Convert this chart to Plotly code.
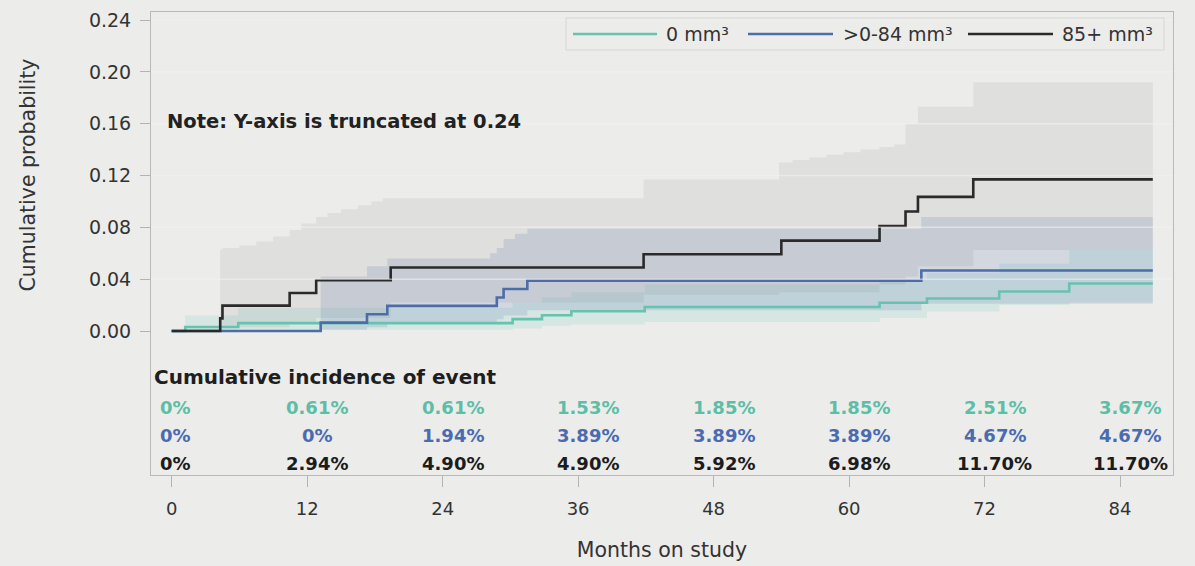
import plotly.graph_objects as go

# ---- cumulative incidence step curves (months, probability) ----
months_0 = [0, 1.2, 5.9, 30.2, 32.8, 35.4, 41.9, 62.7, 66.9, 73.3, 79.5, 86.9]
cif_0 = [0, 0.0031, 0.0061, 0.0092, 0.0122, 0.0153, 0.0185, 0.0218, 0.0251, 0.0305, 0.0367, 0.0367]

months_mid = [0, 13.2, 17.3, 19.1, 28.8, 29.4, 31.5, 66.4, 86.9]
cif_mid = [0, 0.0065, 0.0130, 0.0194, 0.0259, 0.0324, 0.0389, 0.0467, 0.0467]

months_85 = [0, 4.3, 4.5, 10.45, 12.8, 19.4, 41.8, 54.0, 62.7, 65.0, 66.1, 71.0, 86.9]
cif_85 = [0, 0.0098, 0.0196, 0.0294, 0.0392, 0.0490, 0.0592, 0.0698, 0.0810, 0.0922, 0.1035, 0.1170, 0.1170]

# ---- pointwise confidence bands ----
band_0_t = [1.2, 5.9, 30.2, 32.8, 35.4, 41.9, 62.7, 66.9, 73.3, 79.5, 86.9]
band_0_lo = [0.0003, 0.001, 0.002, 0.004, 0.005, 0.007, 0.010, 0.015, 0.020, 0.022, 0.022]
band_0_hi = [0.012, 0.018, 0.022, 0.026, 0.030, 0.036, 0.040, 0.045, 0.052, 0.0625, 0.0625]

band_mid_t = [13.2, 17.3, 19.1, 28.2, 28.8, 29.4, 30.4, 31.5, 66.4, 86.9]
band_mid_lo = [0.001, 0.003, 0.006, 0.006, 0.009, 0.012, 0.012, 0.016, 0.021, 0.021]
band_mid_hi = [0.042, 0.050, 0.056, 0.060, 0.064, 0.071, 0.075, 0.079, 0.088, 0.088]

band_85_t = [4.3, 4.5, 6.0, 7.5, 9.0, 10.45, 11.5, 12.8, 13.8, 15.0, 16.5, 17.7, 18.7, 19.4,
             41.8, 53.8, 55.0, 56.5, 58.0, 59.5, 61.0, 62.7, 64.0, 65.0, 66.1, 71.0, 86.9]
band_85_lo = [0.001, 0.003, 0.003, 0.003, 0.003, 0.006, 0.006, 0.010, 0.010, 0.010, 0.010, 0.010, 0.010, 0.022,
              0.028, 0.030, 0.030, 0.030, 0.030, 0.030, 0.030, 0.036, 0.036, 0.042, 0.050, 0.0625, 0.0625]
band_85_hi = [0.063, 0.064, 0.066, 0.069, 0.073, 0.078, 0.083, 0.088, 0.091, 0.094, 0.097, 0.100, 0.1024, 0.1024,
              0.117, 0.130, 0.132, 0.134, 0.136, 0.138, 0.140, 0.142, 0.144, 0.160, 0.173, 0.192, 0.192]

# ---- table of cumulative incidence at landmark months ----
table_months = [0, 12, 24, 36, 48, 60, 72, 84]
table_0 = ["0%", "0.61%", "0.61%", "1.53%", "1.85%", "1.85%", "2.51%", "3.67%"]
table_mid = ["0%", "0%", "1.94%", "3.89%", "3.89%", "3.89%", "4.67%", "4.67%"]
table_85 = ["0%", "2.94%", "4.90%", "4.90%", "5.92%", "6.98%", "11.70%", "11.70%"]

group_names = ["0 mm³", ">0-84 mm³", "85+ mm³"]
y_ticks = [0, 0.04, 0.08, 0.12, 0.16, 0.20, 0.24]

TEAL = "#67c3b0"
BLUE = "#4c6da8"
BLACK = "#2a2a2a"
TEAL_TXT = "#5bbea7"
BLUE_TXT = "#4a6bb0"
BLACK_TXT = "#1c1c1c"
BG = "#ececea"
FONT = "DejaVu Sans"

fig = go.Figure()


def add_band(t, lo, hi, fillcolor):
    fig.add_trace(go.Scatter(x=t, y=lo, mode="lines", line=dict(width=0, shape="hv"),
                             hoverinfo="skip", showlegend=False))
    fig.add_trace(go.Scatter(x=t, y=hi, mode="lines", line=dict(width=0, shape="hv"),
                             fill="tonexty", fillcolor=fillcolor,
                             hoverinfo="skip", showlegend=False))


add_band(band_0_t, band_0_lo, band_0_hi, "rgba(100,200,195,0.17)")
add_band(band_mid_t, band_mid_lo, band_mid_hi, "rgba(70,100,170,0.15)")
add_band(band_85_t, band_85_lo, band_85_hi, "rgba(110,110,110,0.10)")

for xs, ys, col, name in [(months_0, cif_0, TEAL, group_names[0]),
                          (months_mid, cif_mid, BLUE, group_names[1]),
                          (months_85, cif_85, BLACK, group_names[2])]:
    fig.add_trace(go.Scatter(x=xs, y=ys, mode="lines", name=name,
                             line=dict(color=col, width=2.6, shape="hv"),
                             showlegend=False))

# faint reference lines drawn over the bands
shapes = []
for v in y_ticks[1:]:
    shapes.append(dict(type="line", xref="paper", x0=0, x1=1, yref="y", y0=v, y1=v,
                       line=dict(color="rgba(242,242,242,0.55)", width=1.5), layer="above"))

# legend frame with long line samples
PW = 1022.0
PH = 463.0


def px_x(p):
    return (p - 151) / PW


def px_y(p):
    return (475 - p) / PH


shapes.append(dict(type="rect", xref="paper", yref="paper",
                   x0=px_x(566), x1=px_x(1164), y0=px_y(50), y1=px_y(18),
                   line=dict(color="#d6d6d6", width=1), fillcolor="rgba(0,0,0,0)"))
legend_items = [(573, 657, 664, TEAL, group_names[0]),
                (748, 833, 841, BLUE, group_names[1]),
                (968, 1053, 1060, BLACK, group_names[2])]
annotations = []
for x0, x1, xt, col, name in legend_items:
    shapes.append(dict(type="line", xref="paper", yref="paper",
                       x0=px_x(x0), x1=px_x(x1), y0=px_y(34), y1=px_y(34),
                       line=dict(color=col, width=2.6)))
    annotations.append(dict(xref="paper", yref="paper", x=px_x(xt), y=px_y(34),
                            text=name, showarrow=False, xanchor="left", yanchor="middle",
                            font=dict(family=FONT, size=19, color="#333333")))

annotations.append(dict(xref="paper", yref="paper", x=px_x(165), y=px_y(122),
                        text="<b>Note: Y-axis is truncated at 0.24</b>", showarrow=False,
                        xanchor="left", yanchor="middle",
                        font=dict(family=FONT, size=19.5, color="#222222")))
annotations.append(dict(xref="paper", yref="paper", x=px_x(152), y=px_y(377),
                        text="<b>Cumulative incidence of event</b>", showarrow=False,
                        xanchor="left", yanchor="middle",
                        font=dict(family=FONT, size=20, color="#1e1e1e")))

for row, col, ypx in [(table_0, TEAL_TXT, 407), (table_mid, BLUE_TXT, 435), (table_85, BLACK_TXT, 463)]:
    for m, txt in zip(table_months, row):
        annotations.append(dict(xref="x", yref="paper", x=m, y=px_y(ypx),
                                text="<b>" + txt + "</b>", showarrow=False,
                                xanchor="center", yanchor="middle",
                                xshift=4 if m == 0 else 10,
                                font=dict(family=FONT, size=18, color=col)))

annotations.append(dict(xref="paper", yref="paper", x=px_x(27), y=px_y(175.5),
                        text="Cumulative probability", showarrow=False, textangle=-90,
                        xanchor="center", yanchor="middle",
                        font=dict(family=FONT, size=20.5, color="#333333")))

fig.update_layout(
    width=1195, height=566, autosize=False,
    margin=dict(l=151, r=22, t=12, b=91),
    paper_bgcolor=BG, plot_bgcolor=BG,
    font=dict(family=FONT, color="#333333"),
    shapes=shapes, annotations=annotations,
    showlegend=False,
)
fig.update_xaxes(range=[-1.83, 88.69], tickvals=table_months, ticks="outside", ticklen=11,
                 tickcolor="#b3b3b3", tickfont=dict(family=FONT, size=18, color="#333333"),
                 ticklabelstandoff=6, automargin=False,
                 showgrid=False, zeroline=False, showline=True, mirror=True,
                 linecolor="#b9b9b9", linewidth=1,
                 title=dict(text="Months on study", font=dict(family=FONT, size=20.5, color="#333333"),
                            standoff=25))
fig.update_yaxes(range=[-0.1111, 0.2462], tickvals=y_ticks, tickformat=".2f", ticks="outside",
                 ticklen=10, tickcolor="#b3b3b3", tickfont=dict(family=FONT, size=19, color="#333333"),
                 ticklabelstandoff=5, automargin=False,
                 showgrid=False, zeroline=False, showline=True, mirror=True,
                 linecolor="#b9b9b9", linewidth=1)

fig.write_html("out.html")
